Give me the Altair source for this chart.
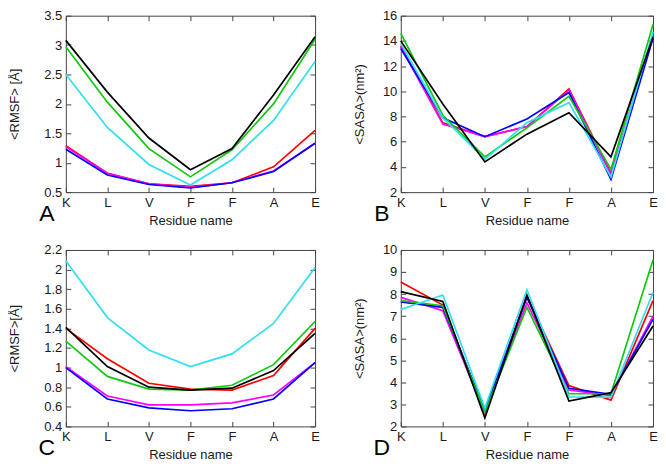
import json
import altair as alt
import pandas as pd

residues = ["K", "L", "V", "F", "F", "A", "E"]
positions = [0, 1, 2, 3, 4, 5, 6]
series = ["red", "magenta", "blue", "green", "cyan", "black"]
colors = ["#ff0000", "#ff00ff", "#0000ff", "#10c810", "#30e0f0", "#000000"]

# Panel A  <RMSF> [Å]
a_red = [1.29, 0.82, 0.64, 0.60, 0.66, 0.93, 1.55]
a_magenta = [1.27, 0.82, 0.64, 0.58, 0.66, 0.86, 1.33]
a_blue = [1.23, 0.79, 0.63, 0.57, 0.66, 0.85, 1.33]
a_green = [2.97, 2.03, 1.24, 0.76, 1.22, 2.00, 3.10]
a_cyan = [2.50, 1.60, 0.97, 0.62, 1.05, 1.72, 2.72]
a_black = [3.08, 2.20, 1.42, 0.88, 1.24, 2.15, 3.14]

# Panel B  <SASA>(nm²)
b_red = [13.6, 7.5, 6.4, 7.2, 10.2, 3.5, 14.4]
b_magenta = [13.5, 7.4, 6.4, 7.2, 10.1, 3.4, 14.4]
b_blue = [13.4, 7.9, 6.4, 7.8, 9.9, 3.0, 14.2]
b_green = [14.6, 8.1, 4.8, 7.1, 9.6, 3.8, 15.3]
b_cyan = [13.8, 7.9, 4.6, 7.5, 9.1, 3.2, 14.7]
b_black = [14.0, 9.0, 4.4, 6.6, 8.3, 4.8, 14.3]

# Panel C  <RMSF>[Å]
c_red = [1.40, 1.09, 0.84, 0.78, 0.77, 0.92, 1.40]
c_magenta = [1.01, 0.71, 0.62, 0.62, 0.64, 0.72, 1.05]
c_blue = [1.00, 0.68, 0.59, 0.56, 0.58, 0.68, 1.05]
c_green = [1.27, 0.91, 0.78, 0.77, 0.82, 1.03, 1.47]
c_cyan = [2.09, 1.51, 1.18, 1.01, 1.14, 1.45, 2.02]
c_black = [1.41, 1.01, 0.80, 0.77, 0.79, 0.97, 1.35]

# Panel D  <SASA>(nm²)
d_red = [8.55, 7.50, 2.60, 7.90, 3.85, 3.19, 7.70]
d_magenta = [7.85, 7.25, 2.60, 7.60, 3.65, 3.40, 7.00]
d_blue = [7.65, 7.40, 2.75, 7.85, 3.73, 3.45, 6.85]
d_green = [7.70, 7.47, 2.65, 7.40, 3.48, 3.48, 9.55]
d_cyan = [7.30, 7.96, 2.83, 8.20, 3.34, 3.33, 8.07]
d_black = [8.11, 7.67, 2.38, 7.95, 3.15, 3.53, 6.55]

a_ticks = [0.5, 1, 1.5, 2, 2.5, 3, 3.5]
b_ticks = [2, 4, 6, 8, 10, 12, 14, 16]
c_ticks = [0.4, 0.6, 0.8, 1, 1.2, 1.4, 1.6, 1.8, 2, 2.2]
d_ticks = [2, 3, 4, 5, 6, 7, 8, 9, 10]

FONT = "Liberation Sans"
label_expr = json.dumps(residues) + "[datum.value]"


def make_df(red, magenta, blue, green, cyan, black):
    rows = []
    for name, vals in zip(series, [red, magenta, blue, green, cyan, black]):
        for p, v in zip(positions, vals):
            rows.append({"series": name, "pos": p, "val": v})
    return pd.DataFrame(rows)


def panel(df, ydom, yticks, ytitle, letter, w, h, tpad):
    xs = alt.Scale(domain=[0, 6], nice=False, zero=False)
    ys = alt.Scale(domain=ydom, nice=False, zero=False)
    lines = alt.Chart(df).mark_line(strokeWidth=1.7).encode(
        x=alt.X("pos:Q", scale=xs, axis=alt.Axis(
            orient="bottom", values=positions, labelExpr=label_expr,
            tickSize=5, offset=-5, domain=False, grid=False, labelFlush=False,
            labelPadding=4, titlePadding=5, title="Residue name")),
        y=alt.Y("val:Q", scale=ys, axis=alt.Axis(
            orient="left", values=yticks, format="~r", tickSize=5, offset=-5,
            domain=False, grid=False, labelPadding=4, titlePadding=tpad,
            title=ytitle)),
        color=alt.Color("series:N", scale=alt.Scale(domain=series, range=colors),
                        legend=None),
    )
    mirror = alt.Chart(df).mark_point(opacity=0).encode(
        x=alt.X("pos:Q", scale=xs, axis=alt.Axis(
            orient="top", values=positions, labels=False, tickSize=5, offset=-5,
            domain=False, grid=False, title=None)),
        y=alt.Y("val:Q", scale=ys, axis=alt.Axis(
            orient="right", values=yticks, labels=False, tickSize=5, offset=-5,
            domain=False, grid=False, title=None)),
    )
    txt = alt.Chart(pd.DataFrame({"letter": [letter]})).mark_text(
        fontSize=23, font=FONT, align="center", baseline="middle", color="#000"
    ).encode(text="letter:N", x=alt.value(-19), y=alt.value(h + 22))
    return alt.layer(lines, mirror, txt).resolve_axis(
        x="independent", y="independent").properties(width=w, height=h)


W1, W2, H = 250, 253, 177

pA = panel(make_df(a_red, a_magenta, a_blue, a_green, a_cyan, a_black),
           [0.5, 3.5], a_ticks, "<RMSF> [Å]", "A", W1, H, 22)
pB = panel(make_df(b_red, b_magenta, b_blue, b_green, b_cyan, b_black),
           [2, 16], b_ticks, "<SASA>(nm²)", "B", W2, H, 16)
pC = panel(make_df(c_red, c_magenta, c_blue, c_green, c_cyan, c_black),
           [0.4, 2.2], c_ticks, "<RMSF>[Å]", "C", W1, H, 22)
pD = panel(make_df(d_red, d_magenta, d_blue, d_green, d_cyan, d_black),
           [2, 10], d_ticks, "<SASA>(nm²)", "D", W2, H, 16)

chart = alt.concat(
    pA, pB, pC, pD, columns=2,
    spacing=alt.RowColnumber(row=58, column=86), bounds="flush"
).properties(padding=0).configure_view(
    stroke="#444", strokeWidth=1
).configure_axis(
    labelFont=FONT, titleFont=FONT, labelFontSize=13, titleFontSize=13,
    titleFontWeight="normal", labelColor="#1a1a1a", titleColor="#1a1a1a",
    tickColor="#444", tickWidth=1
)

chart.save("out.html", embed_options={"renderer": "svg", "actions": False})
